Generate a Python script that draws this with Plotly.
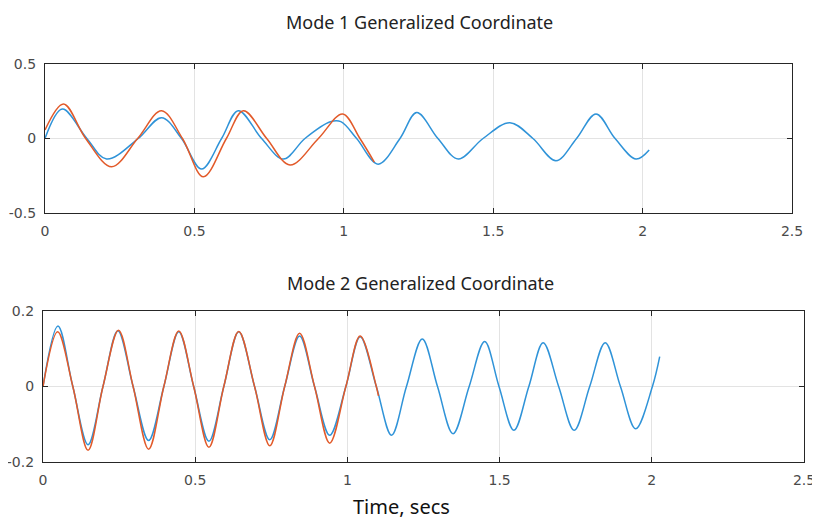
import plotly.graph_objects as go

# ---- Mode 1 data (time in s, generalized coordinate) ----
m1_t_blue = [0, 0.058, 0.14, 0.206, 0.312, 0.39, 0.457, 0.524, 0.591, 0.647,
             0.725, 0.798, 0.87, 0.955, 0.99, 1.043, 1.115, 1.188, 1.244, 1.315,
             1.383, 1.466, 1.556, 1.633, 1.71, 1.779, 1.844, 1.908, 1.978, 2.022]
m1_y_blue = [0, 0.198, 0, -0.138, 0, 0.14, 0, -0.205, 0, 0.187,
             0, -0.138, 0, 0.112, 0.113, 0, -0.172, 0, 0.174, 0,
             -0.138, 0, 0.106, 0, -0.149, 0, 0.165, 0, -0.138, -0.077]

m1_t_orange = [0, 0.062, 0.136, 0.223, 0.31, 0.39, 0.46, 0.53, 0.607, 0.664,
               0.742, 0.82, 0.915, 0.996, 1.054, 1.102]
m1_y_orange = [0.057, 0.232, 0, -0.19, 0, 0.187, 0, -0.257, 0, 0.187,
               0, -0.178, 0, 0.165, 0, -0.158]

# ---- Mode 2 data ----
m2_t_blue = [0, 0.049, 0.098, 0.148, 0.197, 0.246, 0.296, 0.347, 0.397, 0.446,
             0.495, 0.545, 0.594, 0.643, 0.695, 0.745, 0.794, 0.843, 0.892, 0.942,
             0.995, 1.042, 1.095, 1.145, 1.194, 1.246, 1.296, 1.347, 1.40, 1.451,
             1.498, 1.547, 1.596, 1.643, 1.694, 1.745, 1.796, 1.847, 1.897, 1.947,
             2.002, 2.026]
m2_y_blue = [0, 0.16, 0, -0.154, 0, 0.148, 0, -0.143, 0, 0.145,
             0, -0.145, 0, 0.145, 0, -0.141, 0, 0.134, 0, -0.129,
             0, 0.132, 0, -0.129, 0, 0.126, 0, -0.125, 0, 0.119,
             0, -0.116, 0, 0.116, 0, -0.116, 0, 0.116, 0, -0.112,
             0, 0.079]

m2_t_orange = [0, 0.048, 0.098, 0.148, 0.197, 0.248, 0.296, 0.347, 0.397, 0.446,
               0.495, 0.545, 0.594, 0.643, 0.695, 0.745, 0.794, 0.843, 0.892, 0.942,
               0.995, 1.042, 1.095, 1.102]
m2_y_orange = [0, 0.145, 0, -0.169, 0, 0.149, 0, -0.166, 0, 0.147,
               0, -0.161, 0, 0.146, 0, -0.157, 0, 0.141, 0, -0.15,
               0, 0.134, 0, -0.025]

x_ticks = [0, 0.5, 1, 1.5, 2, 2.5]
x_tick_labels = ["0", "0.5", "1", "1.5", "2", "2.5"]
y1_ticks = [-0.5, 0, 0.5]
y1_tick_labels = ["-0.5", "0", "0.5"]
y2_ticks = [-0.2, 0, 0.2]
y2_tick_labels = ["-0.2", "0", "0.2"]

titles = ["Mode 1 Generalized Coordinate", "Mode 2 Generalized Coordinate"]
x_label = "Time, secs"

BLUE = "#2f93d8"
ORANGE = "#e25a2a"

fig = go.Figure()
line_w = 1.5
fig.add_trace(go.Scatter(x=m1_t_blue, y=m1_y_blue, mode="lines", xaxis="x", yaxis="y",
                         line=dict(color=BLUE, width=line_w, shape="spline", smoothing=1.0)))
fig.add_trace(go.Scatter(x=m1_t_orange, y=m1_y_orange, mode="lines", xaxis="x", yaxis="y",
                         line=dict(color=ORANGE, width=line_w, shape="spline", smoothing=1.0)))
fig.add_trace(go.Scatter(x=m2_t_blue, y=m2_y_blue, mode="lines", xaxis="x2", yaxis="y2",
                         line=dict(color=BLUE, width=line_w, shape="spline", smoothing=1.0)))
fig.add_trace(go.Scatter(x=m2_t_orange, y=m2_y_orange, mode="lines", xaxis="x2", yaxis="y2",
                         line=dict(color=ORANGE, width=line_w, shape="spline", smoothing=1.0)))

# page shows the figure offset by the default body margin (8 px)
OFF = 8
W, H = 820 - OFF, 520 - OFF


def fx(px):
    return (px - OFF) / W


def fy(py):
    return 1 - (py - OFF) / H


tick_font = dict(family="DejaVu Sans, sans-serif", size=14, color="#4a4a4a")


def xax(domain, anchor):
    return dict(domain=domain, anchor=anchor, range=[0, 2.5], tickvals=x_ticks,
                ticktext=x_tick_labels, ticks="inside", ticklen=5, tickcolor="#262626",
                showline=True, linecolor="#262626", linewidth=1.3, mirror="ticks",
                showgrid=True, gridcolor="#e3e3e3", gridwidth=1, zeroline=False,
                tickfont=tick_font, automargin=False, ticklabelstandoff=5)


def yax(domain, anchor, rng, tv, tt):
    return dict(domain=domain, anchor=anchor, range=rng, tickvals=tv, ticktext=tt,
                ticks="inside", ticklen=5, tickcolor="#262626",
                showline=True, linecolor="#262626", linewidth=1.3, mirror="ticks",
                showgrid=True, gridcolor="#e3e3e3", gridwidth=1, zeroline=False,
                tickfont=tick_font, automargin=False, ticklabelstandoff=5)


fig.update_layout(
    width=W, height=H,
    margin=dict(l=0, r=0, t=0, b=0, autoexpand=False),
    paper_bgcolor="white", plot_bgcolor="white",
    showlegend=False,
    xaxis=xax([fx(45), fx(792)], "y"),
    yaxis=yax([fy(213), fy(64)], "x", [-0.5, 0.5], y1_ticks, y1_tick_labels),
    xaxis2=xax([fx(43), fx(804)], "y2"),
    yaxis2=yax([fy(462), fy(311)], "x2", [-0.2, 0.2], y2_ticks, y2_tick_labels),
)

title_font = dict(family="Noto Sans, Open Sans, sans-serif", size=18, color="#222222")
fig.add_annotation(text=titles[0], x=fx(419), y=1, xref="paper", yref="paper",
                   showarrow=False, font=title_font, xanchor="center", yanchor="top",
                   borderpad=0, yshift=-1)
fig.add_annotation(text=titles[1], x=fx(420), y=fy(283), xref="paper", yref="paper",
                   showarrow=False, font=title_font, xanchor="center", yanchor="middle")
fig.add_annotation(text=x_label, x=fx(401), y=fy(506), xref="paper", yref="paper",
                   showarrow=False,
                   font=dict(family="Noto Sans, Open Sans, sans-serif", size=20, color="#111111"),
                   xanchor="center", yanchor="middle")

fig.write_html("out.html")
